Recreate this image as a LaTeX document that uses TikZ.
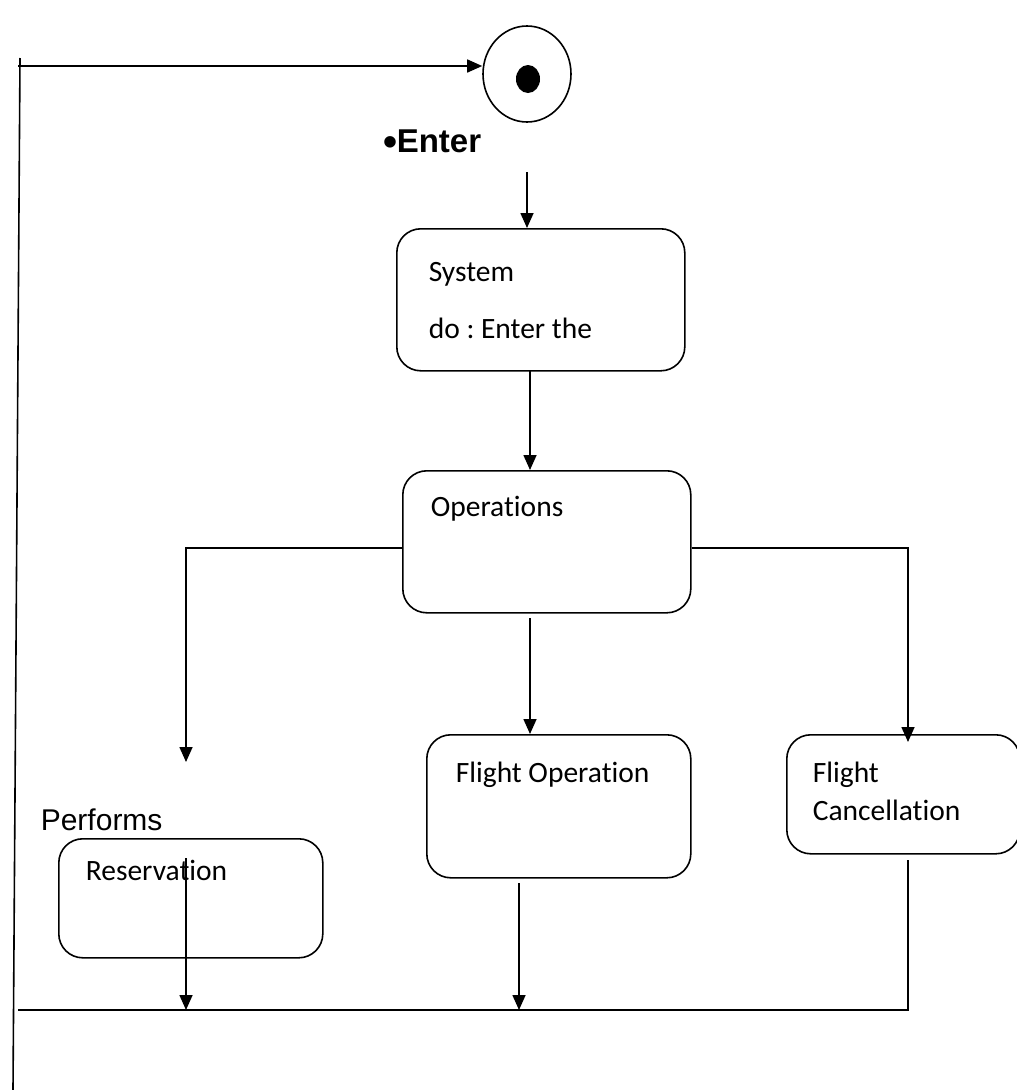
\documentclass[tikz,border=0pt]{standalone}
\usepackage{fontspec}
\setmainfont[Ligatures=NoCommon]{Carlito}
\newfontfamily\arialfont{Liberation Sans}
\usetikzlibrary{arrows.meta,shapes.geometric}
\frenchspacing
\begin{document}
\begin{tikzpicture}[x=1pt,y=-1pt,line width=1.6pt,
  statebox/.style={draw,rounded corners=24pt,anchor=north west,inner sep=0pt},
  lbl/.style={anchor=base west,inner sep=0pt,font=\fontsize{29.5}{34}\selectfont},
  albl/.style={anchor=base west,inner sep=0pt,font=\arialfont\fontsize{30}{34}\selectfont},
  arr/.style={-{Triangle[length=15pt,width=13pt]}}]
\useasboundingbox (0,0) rectangle (1017,1090);
\fill[white] (0,0) rectangle (1017,1090);
% start state
\node[draw,ellipse,minimum width=88pt,minimum height=96pt,inner sep=0pt] (start) at (527,74) {};
\node[fill,ellipse,minimum width=24pt,minimum height=28pt,inner sep=0pt] (dot) at (528,79) {};
\node[albl,font=\arialfont\bfseries\fontsize{33}{36}\selectfont] (enter) at (383,152) {{\fontsize{40}{34}\selectfont\raisebox{-3pt}{\textbullet}}\kern-1pt Enter};
% boxes
\node[statebox,minimum width=288pt,minimum height=142pt] (sys) at (396,228) {};
\node[lbl] (sysA) at (428,281) {System};
\node[lbl] (sysB) at (428,338) {do : Enter the};
\node[statebox,minimum width=288pt,minimum height=142pt] (ops) at (402,470) {};
\node[lbl] (opsA) at (430,516) {Operations};
\node[statebox,minimum width=264pt,minimum height=143pt] (fop) at (426,734) {};
\node[lbl] (fopA) at (455,782) {Flight Operation};
\node[statebox,minimum width=233pt,minimum height=119pt] (canc) at (786,734) {};
\node[lbl] (cancA) at (812,782) {Flight};
\node[lbl] (cancB) at (812,820) {Cancellation};
\node[albl] (perf) at (40,830) {Performs};
\node[statebox,minimum width=264pt,minimum height=119pt] (resv) at (58,838) {};
\node[lbl] (resvA) at (85,880) {Reservation};
% coordinates
\coordinate (tl) at (18,66);
\coordinate (ltop) at (20,58);
\coordinate (lbot) at (13,1090);
\coordinate (e1) at (527,172);
\coordinate (s1) at (530,370);
\coordinate (lb) at (186,762);
\coordinate (rb) at (908,742);
\coordinate (m1) at (530,618);
\coordinate (r1) at (186,858);
\coordinate (f1) at (519,883);
\coordinate (c1) at (908,860);
\coordinate (bl) at (18,1010);
% connectors
\draw (ltop) -- (lbot);
\draw[arr] (tl) -- (tl -| start.west);
\draw[arr] (e1) -- (e1 |- sys.north);
\draw[arr] (s1) -- (s1 |- ops.north);
\draw[arr] (ops.west |- 0,548) -| (lb);
\draw[arr] (ops.east |- 0,548) -| (rb);
\draw[arr] (m1) -- (m1 |- fop.north);
\draw[arr] (r1) -- (r1 |- bl);
\draw[arr] (f1) -- (f1 |- bl);
\draw (c1) |- (bl);
\end{tikzpicture}
\end{document}
